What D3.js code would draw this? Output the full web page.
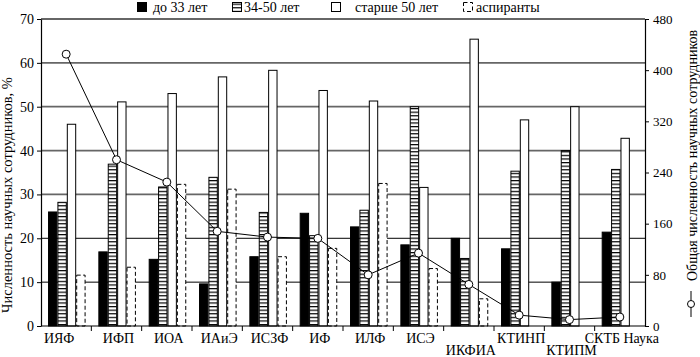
<!DOCTYPE html>
<html><head><meta charset="utf-8">
<script src="https://cdn.jsdelivr.net/npm/d3@7"></script>
<style>
body{margin:0;background:#fff}
svg{display:block}
text{font-family:"Liberation Serif","Times New Roman",serif;fill:#000}
</style>
</head><body>
<svg id="c" width="700" height="357"></svg>
<script>
// ---- data ----
const categories = ["ИЯФ","ИФП","ИОА","ИАиЭ","ИСЗФ","ИФ","ИЛФ","ИСЭ","ИКФИА","КТИНП","КТИПМ","СКТБ Наука"];
const under33  = [26.0, 16.9, 15.2, 9.6, 15.8, 25.7, 22.6, 18.5, 20.0, 17.6, 10.0, 21.4];
const age34_50 = [28.2, 36.9, 31.7, 33.9, 25.9, 20.6, 26.4, 50.0, 15.4, 35.3, 40.0, 35.7];
const over50   = [46.0, 51.1, 53.0, 56.8, 58.3, 53.7, 51.3, 31.6, 65.4, 47.0, 50.0, 42.8];
const postgrad = [11.6, 13.4, 32.3, 31.2, 15.8, 17.7, 32.5, 13.1, 6.2, 0, 0, 0];
const totalStaff = [425, 260, 225, 148, 139, 137, 80, 114, 65, 17, 10, 14];
const seriesNames = ["до 33 лет","34-50 лет","старше 50 лет","аспиранты"];
const leftTicks = [0,10,20,30,40,50,60,70];
const rightTicks = [0,80,160,240,320,400,480];
const leftTitle = "Численность научных сотрудников, %";
const rightTitle = "Общая численность научных сотрудников";
const lowerRowLabels = ["ИКФИА","КТИПМ"];

// ---- layout ----
const X0 = 41, X1 = 645, Y0 = 326, Y1 = 19;
const svg = d3.select("#c");
const x = d3.scaleBand().domain(categories).range([X0, X1]);
const yL = d3.scaleLinear().domain([0,70]).range([Y0, Y1]);
const yR = d3.scaleLinear().domain([0,480]).range([Y0, Y1]);
const keys = ["u","m","o","p"];
const seriesVals = {u: under33, m: age34_50, o: over50, p: postgrad};
const xs = d3.scaleBand().domain(keys).range([0, x.bandwidth()]).paddingOuter(0.68).align(0.55);

// hatch pattern
const defs = svg.append("defs");
const pat = defs.append("pattern").attr("id","hatch").attr("patternUnits","userSpaceOnUse")
  .attr("width",10).attr("height",3.6);
pat.append("rect").attr("width",10).attr("height",3.6).attr("fill","#fff");
pat.append("rect").attr("y",0).attr("width",10).attr("height",1.2).attr("fill","#000");

// gridlines
svg.append("g").selectAll("line").data(leftTicks.filter(v=>v>0)).join("line")
  .attr("x1",X0).attr("x2",X1)
  .attr("y1",d=>yL(d)).attr("y2",d=>yL(d))
  .attr("stroke",d=>d>=30?"#666":"#000")
  .attr("stroke-width",d=>d>=30?1.8:1);

// bars
const styles = {
  u:{fill:"#000",stroke:"#000",dash:null},
  m:{fill:"url(#hatch)",stroke:"#000",dash:null},
  o:{fill:"#fff",stroke:"#000",dash:null},
  p:{fill:"#fff",stroke:"#000",dash:"4,2.5"}
};
keys.forEach(k=>{
  const s = styles[k];
  svg.append("g").selectAll("rect")
    .data(categories.map((c,i)=>({c, v: seriesVals[k][i]})).filter(d=>d.v>0))
    .join("rect")
    .attr("x",d=>x(d.c)+xs(k)+0.5)
    .attr("y",d=>yL(d.v))
    .attr("width",xs.bandwidth()-1)
    .attr("height",d=>Y0-yL(d.v))
    .attr("fill",s.fill).attr("stroke",s.stroke).attr("stroke-width",1)
    .attr("stroke-dasharray",s.dash);
});

// top border
svg.append("line").attr("x1",X0).attr("x2",X1).attr("y1",Y1).attr("y2",Y1)
  .attr("stroke","#666").attr("stroke-width",2);

// left axis
const axL = d3.axisLeft(yL).tickValues(leftTicks).tickSize(4).tickSizeOuter(0).tickPadding(3);
const gL = svg.append("g").attr("transform",`translate(${X0},0)`).call(axL);
// right axis
const axR = d3.axisRight(yR).tickValues(rightTicks).tickSize(4).tickSizeOuter(0).tickPadding(4);
const gR = svg.append("g").attr("transform",`translate(${X1},0)`).call(axR);
gL.selectAll("text").style("font-size","14px");
gR.selectAll("text").style("font-size","13px");
[gL,gR].forEach(g=>{
  g.selectAll("text").style("font-family",'"Liberation Serif",serif').attr("fill","#000");
  g.selectAll("line,path").attr("stroke","#000");
  g.select(".domain").attr("stroke-width",1.2);
});

// x axis
svg.append("line").attr("x1",X0).attr("x2",X1).attr("y1",Y0).attr("y2",Y0).attr("stroke","#000").attr("stroke-width",1.2);
svg.append("g").selectAll("line").data(categories.slice(1)).join("line")
  .attr("x1",d=>x(d)).attr("x2",d=>x(d)).attr("y1",Y0).attr("y2",Y0+5).attr("stroke","#000");
svg.append("g").selectAll("text").data(categories).join("text")
  .attr("x",(d,i)=>x(d)+x.bandwidth()/2 + (i===0?-7:2))
  .attr("y",d=>lowerRowLabels.includes(d)?355:343)
  .attr("text-anchor","middle").style("font-size","14px").text(d=>d);

// line series
const lineGen = d3.line().x((d,i)=>x(categories[i])+x.bandwidth()/2).y(d=>yR(d));
svg.append("path").datum(totalStaff).attr("d",lineGen).attr("fill","none").attr("stroke","#000").attr("stroke-width",1);
svg.append("g").selectAll("circle").data(totalStaff).join("circle")
  .attr("cx",(d,i)=>x(categories[i])+x.bandwidth()/2).attr("cy",d=>yR(d))
  .attr("r",4).attr("fill","#fff").attr("stroke","#000").attr("stroke-width",1);

// titles
svg.append("text").attr("transform","translate(12,195) rotate(-90)")
  .attr("text-anchor","middle").style("font-size","14.5px").text(leftTitle);
svg.append("text").attr("transform","translate(697,281) rotate(-90)")
  .attr("text-anchor","start").style("font-size","14px").text(rightTitle);
svg.append("line").attr("x1",691).attr("x2",691).attr("y1",291).attr("y2",317).attr("stroke","#000");
svg.append("circle").attr("cx",691).attr("cy",304).attr("r",3.5).attr("fill","#fff").attr("stroke","#000");

// legend
const legX = [137, 232, 331, 463];
const legTX = [153, 244, 355, 476];
const lg = svg.append("g");
seriesNames.forEach((n,i)=>{
  const s = styles[keys[i]];
  lg.append("rect").attr("x",legX[i]+0.5).attr("y",2.5).attr("width",9).attr("height",9)
    .attr("fill",s.fill).attr("stroke","#000").attr("stroke-dasharray",s.dash);
  lg.append("text").attr("x",legTX[i]).attr("y",12).style("font-size","14px").text(n);
});
</script>
</body></html>
